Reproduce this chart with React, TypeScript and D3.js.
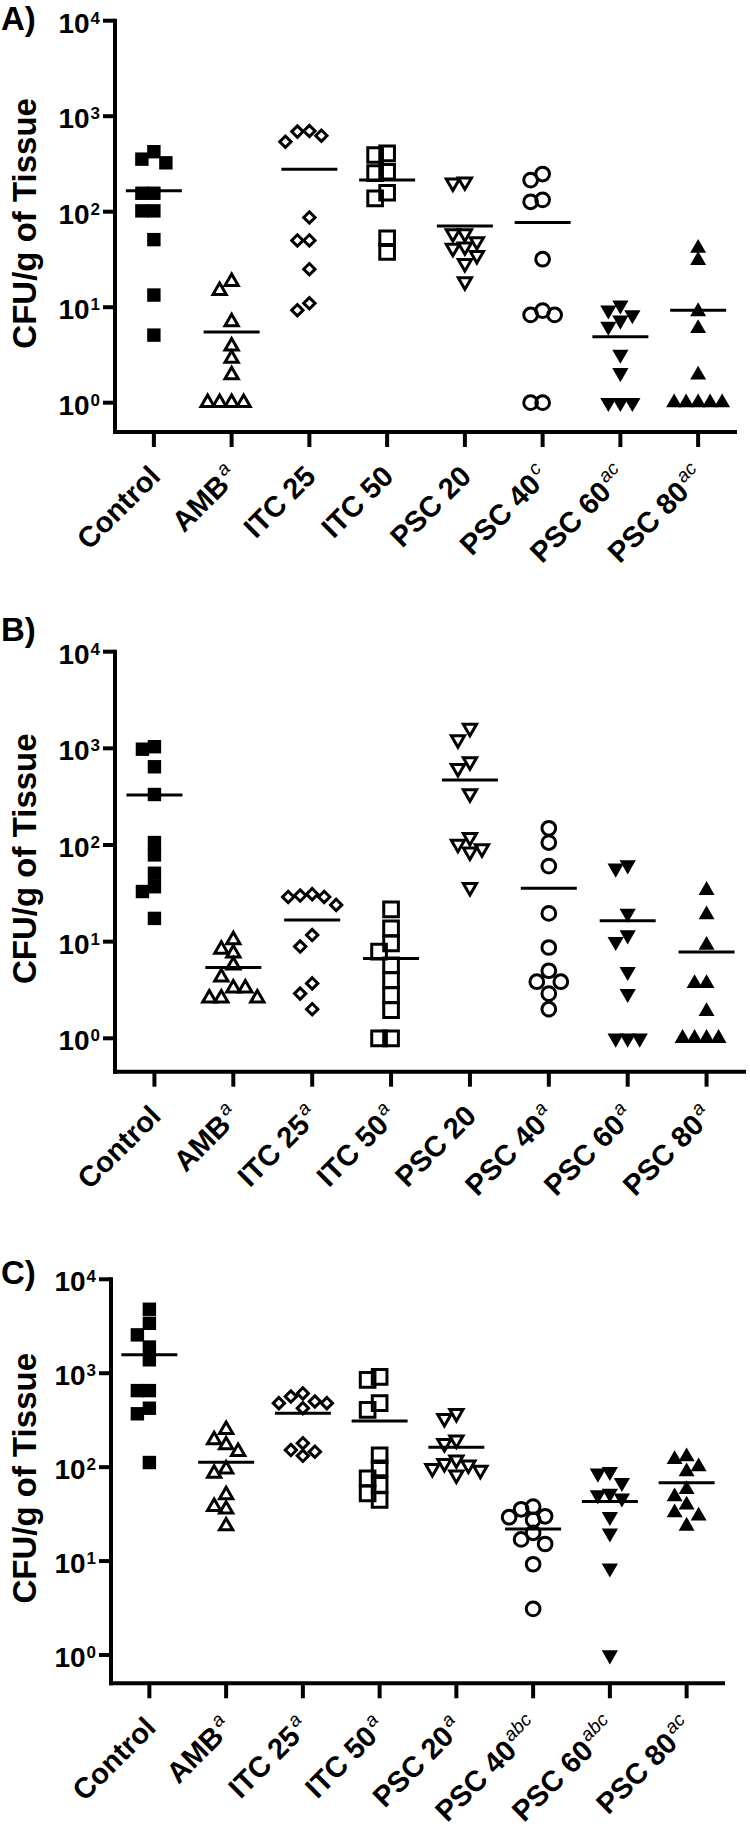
import React from "react";
import * as d3 from "d3";

// ---------- data ----------
const groups = ["Control", "AMB", "ITC 25", "ITC 50", "PSC 20", "PSC 40", "PSC 60", "PSC 80"];
const supA = ["", "a", "", "", "", "c", "ac", "ac"];
const supB = ["", "a", "a", "a", "", "a", "a", "a"];
const supC = ["", "a", "a", "a", "a", "abc", "abc", "ac"];
const tickValues = [1, 10, 100, 1000, 10000];
const tickExponents = ["0", "1", "2", "3", "4"];
const yTitle = "CFU/g of Tissue";

// Panel A
const controlA = [425, 355, 325, 156, 156, 102, 102, 51, 13.4, 5.1];
const ambA = [18.5, 14.9, 7.0, 3.9, 2.9, 1.95, 1, 1, 1, 1];
const itc25A = [700, 690, 625, 540, 87, 50, 50, 25, 11, 9.3];
const itc50A = [408, 392, 262, 253, 158, 138, 52.7, 38];
const psc20A = [206, 201, 59, 59, 48.8, 43, 41.5, 35, 28.8, 18.5];
const psc40A = [248, 214, 133, 127, 31.8, 9.2, 8.3, 8.3, 1, 1];
const psc60A = [10.5, 9.3, 8.3, 7.3, 6.3, 3.2, 2.06, 1, 1, 1];
const psc80A = [41.5, 31, 9, 6.0, 1.95, 1, 1, 1, 1, 1];
const meansA = [166, 5.5, 279, 215, 71, 77, 4.9, 9.3];

// Panel B
const controlB = [1040, 980, 645, 333, 106, 79, 51, 37, 33, 17.4];
const ambB = [10.4, 8.3, 7.6, 5.7, 4.3, 3.3, 3.3, 2.6, 2.6, 2.6];
const itc25B = [31, 30, 29, 29, 24, 11.7, 8.9, 3.7, 2.9, 2.0];
const itc50B = [21.6, 13.7, 9.6, 7.9, 5.7, 4.0, 2.8, 1.96, 1, 1];
const psc20B = [1620, 1230, 730, 620, 340, 120, 102, 92, 85, 36.5];
const psc40B = [149, 106, 60.5, 19.6, 8.7, 5.0, 3.85, 3.85, 2.9, 2.0];
const psc60B = [62, 57.5, 19.6, 11.7, 10, 4.9, 2.9, 1, 1, 1];
const psc80B = [34, 19, 9.2, 3.7, 3.7, 1.9, 1, 1, 1, 1];
const meansB = [330, 5.4, 16.7, 6.7, 471, 35.7, 16.5, 7.8];

// Panel C
const controlC = [4800, 3400, 2560, 1900, 1390, 653, 653, 424, 370, 112];
const ambC = [250, 195, 172, 146, 95, 86, 50.5, 38, 35.6, 23.6];
const itc25C = [610, 565, 500, 480, 480, 425, 180, 152, 146, 132];
const itc50C = [915, 850, 480, 407, 134, 97, 76, 64.7, 52.6, 44.7];
const psc20C = [375, 331, 195, 179, 120, 110, 106, 97, 93, 83];
const psc40C = [38, 35.6, 30, 29.3, 27.4, 20, 17, 15.2, 9.25, 3.1];
const psc60C = [89.7, 86, 68.4, 52.6, 50.5, 46.7, 29.7, 19.8, 8.4, 1];
const psc80C = [129, 121, 101, 89.6, 58, 48.4, 39.7, 32.7, 30.2, 23.6];
const meansC = [1570, 113, 375, 310, 163, 22, 43, 68.4];

// ---------- layout / style ----------
const FONT = "'Liberation Sans', Arial, Helvetica, sans-serif";

const panels = [
  {
    letter: "A)", sups: supA, means: meansA,
    series: [controlA, ambA, itc25A, itc50A, psc20A, psc40A, psc60A, psc80A],
    axisX: 115, right: 737, yTop: 20.7, yOne: 402.7, axisY: 432, letterY: 30,
  },
  {
    letter: "B)", sups: supB, means: meansB,
    series: [controlB, ambB, itc25B, itc50B, psc20B, psc40B, psc60B, psc80B],
    axisX: 115, right: 746, yTop: 651.7, yOne: 1038.3, axisY: 1071.7, letterY: 641,
  },
  {
    letter: "C)", sups: supC, means: meansC,
    series: [controlC, ambC, itc25C, itc50C, psc20C, psc40C, psc60C, psc80C],
    axisX: 111, right: 725, yTop: 1279.3, yOne: 1655, axisY: 1683.3, letterY: 1284,
  },
];

const markers = [
  { type: d3.symbolSquare, size: 180, filled: true, rot: 0 },
  { type: d3.symbolTriangle, size: 76, filled: false, rot: 0 },
  { type: d3.symbolDiamond2, size: 82, filled: false, rot: 0 },
  { type: d3.symbolSquare, size: 215, filled: false, rot: 0 },
  { type: d3.symbolTriangle, size: 76, filled: false, rot: 180 },
  { type: d3.symbolCircle, size: 148, filled: false, rot: 0 },
  { type: d3.symbolTriangle, size: 115, filled: true, rot: 180 },
  { type: d3.symbolTriangle, size: 110, filled: true, rot: 0 },
];

function dodge(vals: number[], y: (v: number) => number, thr: number): number[] {
  const order = vals.map((_, i) => i).sort((a, b) => vals[b] - vals[a]);
  const placed: { slot: number; py: number }[] = [];
  const slots: number[] = new Array(vals.length).fill(0);
  for (const i of order) {
    const py = y(vals[i]);
    for (let k = 0; k < 30; k++) {
      const slot = k === 0 ? 0 : k % 2 === 1 ? -Math.ceil(k / 2) : Math.ceil(k / 2);
      if (!placed.some((p) => p.slot === slot && Math.abs(p.py - py) < thr)) {
        slots[i] = slot;
        placed.push({ slot, py });
        break;
      }
    }
  }
  return slots;
}

function Panel({ p }: { p: (typeof panels)[number] }) {
  const y = d3.scaleLog().domain([1, 10000]).range([p.yOne, p.yTop]);
  const x = d3.scalePoint<string>().domain(groups).range([p.axisX, p.right]).padding(0.5);
  const step = 12;
  const titleY = (p.yTop + p.axisY) / 2 - 3;
  return (
    <g>
      <text x={1} y={p.letterY} fontFamily={FONT} fontWeight="bold" fontSize={33}>{p.letter}</text>
      <text transform={`translate(36,${titleY}) rotate(-90)`} textAnchor="middle"
        fontFamily={FONT} fontWeight="bold" fontSize={33}>{yTitle}</text>
      {/* axes */}
      <line x1={p.axisX} x2={p.axisX} y1={p.yTop - 2} y2={p.axisY + 2} stroke="#000" strokeWidth={4} />
      <line x1={p.axisX - 2} x2={p.right} y1={p.axisY} y2={p.axisY} stroke="#000" strokeWidth={4} />
      {tickValues.map((t, i) => (
        <g key={"yt" + i}>
          <line x1={p.axisX - 12} x2={p.axisX} y1={y(t)} y2={y(t)} stroke="#000" strokeWidth={4} />
          <text x={p.axisX - 15} y={y(t) + 12} textAnchor="end" fontFamily={FONT} fontWeight="bold" fontSize={28}>
            <tspan>10</tspan>
            <tspan fontSize={17} dy={-9} dx={1}>{tickExponents[i]}</tspan>
          </text>
        </g>
      ))}
      {groups.map((g, i) => {
        const cx = x(g)!;
        return (
          <g key={"xt" + i}>
            <line x1={cx} x2={cx} y1={p.axisY} y2={p.axisY + 15} stroke="#000" strokeWidth={4} />
            <text transform={`translate(${cx + 8},${p.axisY + 46}) rotate(-45)`} textAnchor="end"
              fontFamily={FONT} fontWeight="bold" fontSize={29}>
              <tspan>{g}</tspan>
              {p.sups[i] ? (
                <tspan fontSize={19} fontStyle="italic" fontWeight="normal" dy={-12} dx={2}>{p.sups[i]}</tspan>
              ) : null}
            </text>
          </g>
        );
      })}
      {/* points */}
      {p.series.map((vals, gi) => {
        const cx = x(groups[gi])!;
        const slots = dodge(vals, (v) => y(v), 12);
        const m = markers[gi];
        const path = d3.symbol().type(m.type).size(m.size)()!;
        return (
          <g key={"s" + gi}>
            {vals.map((v, j) => (
              <path key={j} d={path}
                transform={`translate(${cx + slots[j] * step},${y(v)}) rotate(${m.rot})`}
                fill={m.filled ? "#000" : "none"} stroke="#000"
                strokeWidth={m.filled ? 0 : 3} strokeLinejoin="miter" />
            ))}
            <line x1={cx - 28} x2={cx + 28} y1={y(p.means[gi])} y2={y(p.means[gi])}
              stroke="#000" strokeWidth={3} />
          </g>
        );
      })}
    </g>
  );
}

export default function App() {
  return (
    <svg width={750} height={1832} viewBox="0 0 750 1832"
      style={{ position: "absolute", left: 0, top: 0, background: "#fff" }}>
      <rect width={750} height={1832} fill="#fff" />
      {panels.map((p, i) => <Panel key={i} p={p} />)}
    </svg>
  );
}
